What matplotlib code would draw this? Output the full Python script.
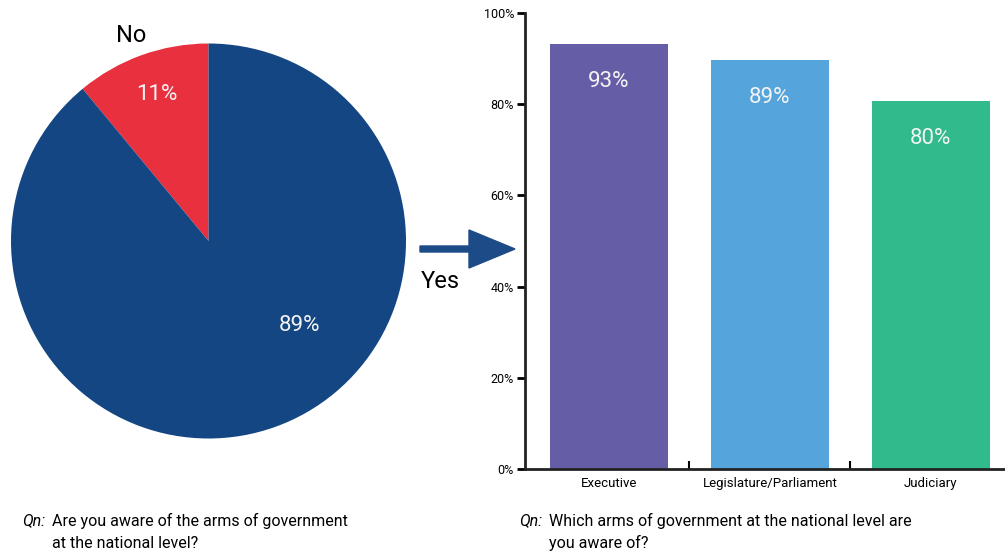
import matplotlib
matplotlib.use("Agg")
from matplotlib import pyplot as plt
from matplotlib.patches import FancyArrow

plt.rcParams["font.family"] = ["Roboto", "DejaVu Sans"]

# --- Data ---
PIE_LABELS = ["No", "Yes"]
PIE_VALUES = [11, 89]
PIE_TEXT = ["11%", "89%"]
ARMS = ["Executive", "Legislature/Parliament", "Judiciary"]
ARM_VALUES = [93.2, 89.7, 80.7]
ARM_TEXT = ["93%", "89%", "80%"]
Y_TICKS = [0, 20, 40, 60, 80, 100]

RED, NAVY = "#E8303F", "#134682"
BAR_COLORS = ["#655DA6", "#55A5DC", "#31BA8C"]

W, H = 1005, 553
fig = plt.figure(figsize=(W / 100, H / 100), dpi=100)

def px_axes(x0, y0, x1, y1):
    # pixel box (top-left origin) -> figure axes
    return fig.add_axes([x0 / W, 1 - y1 / H, (x1 - x0) / W, (y1 - y0) / H])

# --- Pie ---
ax_pie = px_axes(11, 43.5, 406, 438.5)
ax_pie.pie(PIE_VALUES, colors=[RED, NAVY], startangle=90, counterclock=True,
           radius=1, wedgeprops=dict(linewidth=0))
ax_pie.set_xlim(-1, 1); ax_pie.set_ylim(-1, 1)
ax_pie.text(-0.26, 0.74, PIE_TEXT[0], color="#F4F4F4", fontsize=16,
            ha="center", va="center")
ax_pie.text(0.46, -0.43, PIE_TEXT[1], color="#F4F4F4", fontsize=16,
            ha="center", va="center")

fig.text(131 / W, 1 - 35 / H, PIE_LABELS[0], fontsize=17, ha="center", va="center")
fig.text(440 / W, 1 - 281 / H, PIE_LABELS[1], fontsize=17, ha="center", va="center")

# arrow from pie to bars
fig.patches.append(FancyArrow(420 / W, 1 - 249 / H, 95 / W, 0, width=6 / H,
                              head_width=38 / H, head_length=46 / W,
                              length_includes_head=True, color="#1C4B87",
                              transform=fig.transFigure, figure=fig))

# --- Bars ---
ax = px_axes(525, 13, 1005, 469)
x = range(len(ARMS))
ax.bar(x, ARM_VALUES, width=0.73, color=BAR_COLORS)
for i, (v, t) in enumerate(zip(ARM_VALUES, ARM_TEXT)):
    ax.text(i, v - 8.3, t, color="#F4F4F4", fontsize=16, ha="center", va="center")
ax.set_xlim(-0.52, 2.46)
ax.set_ylim(0, 100)
ax.set_yticks(Y_TICKS)
ax.set_yticklabels([f"{t}%" for t in Y_TICKS], fontsize=9)
ax.set_xticks(list(x))
ax.set_xticklabels(ARMS, fontsize=9.5)
ax.set_xticks([0.5, 1.5], minor=True)
ax.tick_params(axis="x", which="major", length=0, pad=6)
ax.tick_params(axis="x", which="minor", direction="in", length=6, width=1.5)
ax.tick_params(axis="y", length=6, width=2, pad=2)
for s in ["top", "right"]:
    ax.spines[s].set_visible(False)
for s in ["left", "bottom"]:
    ax.spines[s].set_linewidth(2)
    ax.spines[s].set_color("#222222")

# --- Captions ---
CAP = 11.5
fig.text(22 / W, 1 - 521 / H, "Qn:", fontsize=CAP, style="italic", va="center")
fig.text(52 / W, 1 - 521 / H, "Are you aware of the arms of government",
         fontsize=CAP, va="center")
fig.text(52 / W, 1 - 543 / H, "at the national level?", fontsize=CAP, va="center")
fig.text(519 / W, 1 - 521 / H, "Qn:", fontsize=CAP, style="italic", va="center")
fig.text(549 / W, 1 - 521 / H, "Which arms of government at the national level are",
         fontsize=CAP, va="center")
fig.text(549 / W, 1 - 543 / H, "you aware of?", fontsize=CAP, va="center")

fig.savefig("out.png", dpi=100)
